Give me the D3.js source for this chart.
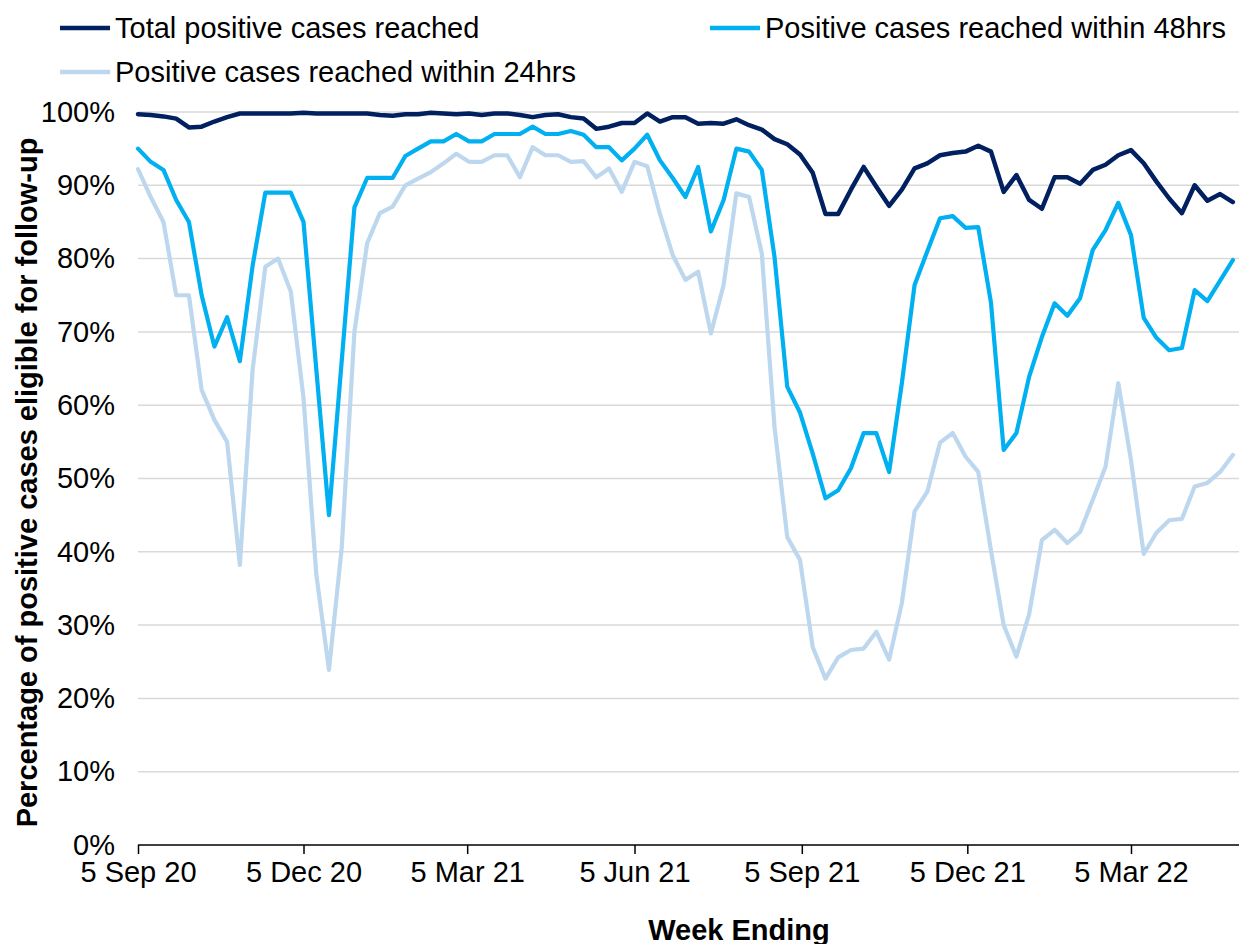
<!DOCTYPE html>
<html>
<head>
<meta charset="utf-8">
<script src="https://cdn.jsdelivr.net/npm/d3@7"></script>
<style>
  html, body { margin: 0; padding: 0; background: #fff; }
  svg { display: block; font-family: "Liberation Sans", Arial, sans-serif; }
</style>
</head>
<body>
<div id="chart"></div>
<script>
// ── Data: weekly share of positive cases reached (week ending Saturdays) ──
const firstWeek = new Date(2020, 8, 5);
const lastWeek  = new Date(2022, 3, 30);
const weeks = d3.timeSaturday.range(firstWeek, d3.timeDay.offset(lastWeek, 1));

const total = [
  99.7, 99.6, 99.4, 99.1, 97.9, 98.0, 98.7, 99.3, 99.8, 99.8,
  99.8, 99.8, 99.8, 99.9, 99.8, 99.8, 99.8, 99.8, 99.8, 99.6,
  99.5, 99.7, 99.7, 99.9, 99.8, 99.7, 99.8, 99.6, 99.8, 99.8,
  99.6, 99.3, 99.6, 99.7, 99.3, 99.1, 97.7, 98.0, 98.5, 98.5,
  99.8, 98.7, 99.3, 99.3, 98.4, 98.5, 98.4, 99.0, 98.2, 97.6,
  96.3, 95.6, 94.2, 91.7, 86.1, 86.1, 89.4, 92.5, 89.8, 87.2,
  89.4, 92.3, 93.0, 94.1, 94.4, 94.6, 95.4, 94.6, 89.1, 91.4,
  88.0, 86.8, 91.1, 91.1, 90.2, 92.1, 92.8, 94.1, 94.8, 93.0,
  90.5, 88.2, 86.2, 90.0, 87.9, 88.8, 87.7
];

const within48 = [
  95.0, 93.2, 92.1, 88.0, 85.0, 75.0, 68.0, 72.0, 66.0, 79.0,
  89.0, 89.0, 89.0, 85.0, 65.0, 45.0, 66.0, 87.0, 91.0, 91.0,
  91.0, 94.0, 95.0, 96.0, 96.0, 97.0, 96.0, 96.0, 97.0, 97.0,
  97.0, 98.0, 97.0, 97.0, 97.4, 96.9, 95.2, 95.2, 93.4, 95.0,
  96.9, 93.4, 91.0, 88.4, 92.5, 83.7, 88.0, 95.0, 94.6, 92.1,
  80.2, 62.5, 59.0, 53.4, 47.3, 48.4, 51.4, 56.2, 56.2, 50.9,
  63.0, 76.4, 81.0, 85.5, 85.8, 84.2, 84.3, 74.0, 53.9, 56.2,
  63.9, 69.3, 73.9, 72.2, 74.6, 81.2, 83.9, 87.6, 83.2, 71.9,
  69.2, 67.5, 67.8, 75.7, 74.2, 77.0, 79.8
];

const within24 = [
  92.2, 88.4, 85.0, 75.0, 75.0, 62.1, 58.0, 55.0, 38.2, 64.8,
  78.9, 80.0, 75.5, 61.0, 37.0, 23.9, 40.5, 70.0, 82.1, 86.2,
  87.1, 90.0, 90.9, 91.8, 93.0, 94.3, 93.2, 93.2, 94.1, 94.1,
  91.1, 95.2, 94.1, 94.1, 93.2, 93.3, 91.1, 92.3, 89.1, 93.2,
  92.6, 86.1, 80.5, 77.1, 78.2, 69.8, 76.4, 88.9, 88.4, 80.7,
  57.0, 42.0, 38.9, 27.0, 22.7, 25.6, 26.6, 26.8, 29.1, 25.3,
  33.0, 45.5, 48.2, 54.9, 56.2, 53.0, 50.9, 40.2, 30.0, 25.7,
  31.5, 41.6, 43.0, 41.2, 42.7, 47.1, 51.6, 63.0, 52.5, 39.7,
  42.6, 44.3, 44.5, 48.9, 49.4, 50.9, 53.2
];

const seriesNames = [
  "Total positive cases reached",
  "Positive cases reached within 48hrs",
  "Positive cases reached within 24hrs"
];
const seriesColors = ["#002060", "#00b0f0", "#bdd7ee"];

const xTickDates = [
  new Date(2020, 8, 5), new Date(2020, 11, 5), new Date(2021, 2, 5),
  new Date(2021, 5, 5), new Date(2021, 8, 5), new Date(2021, 11, 5),
  new Date(2022, 2, 5)
];
const yTicks = [0, 10, 20, 30, 40, 50, 60, 70, 80, 90, 100];

// ── Layout ──────────────────────────────────────────────────────────────
const W = 1239, H = 944;
const plot = { left: 138, right: 1239, top: 112, bottom: 845 };
const FONT = 29;

const svg = d3.select("#chart").append("svg")
  .attr("width", W).attr("height", H)
  .attr("viewBox", `0 0 ${W} ${H}`);

const x = d3.scaleTime()
  .domain([xTickDates[0], xTickDates[6]])
  .range([138, 1131]);

const y = d3.scaleLinear().domain([0, 100]).range([plot.bottom, plot.top]);

// Gridlines
svg.append("g")
  .selectAll("line")
  .data(yTicks.filter(v => v > 0))
  .join("line")
  .attr("x1", plot.left).attr("x2", plot.right)
  .attr("y1", d => y(d)).attr("y2", d => y(d))
  .attr("stroke", "#d9d9d9")
  .attr("stroke-width", 1.5);

// Y axis labels
const yAxis = svg.append("g")
  .attr("transform", `translate(${plot.left},0)`)
  .call(d3.axisLeft(y).tickValues(yTicks).tickSize(0).tickPadding(23)
    .tickFormat(d => d + "%"));
yAxis.select(".domain").remove();
yAxis.selectAll("text")
  .attr("font-size", FONT)
  .attr("font-family", "'Liberation Sans', Arial, sans-serif")
  .attr("fill", "#000");

// X axis
const xAxis = svg.append("g")
  .attr("transform", `translate(0,${plot.bottom})`)
  .call(d3.axisBottom(x).tickValues(xTickDates).tickSize(9).tickPadding(7)
    .tickFormat(d3.timeFormat("%-d %b %y")));
xAxis.select(".domain")
  .attr("d", `M${plot.left},0H${plot.right + 5}`)
  .attr("stroke", "#000").attr("stroke-width", 1.5);
xAxis.selectAll(".tick line").attr("stroke", "#000").attr("stroke-width", 1.5);
xAxis.selectAll("text")
  .attr("font-size", FONT)
  .attr("font-family", "'Liberation Sans', Arial, sans-serif")
  .attr("fill", "#000");

// Lines
const allSeries = [total, within48, within24];
const line = d3.line()
  .x((d, i) => x(weeks[i]))
  .y(d => y(d));

allSeries.forEach(function (vals, si) {
  svg.append("path")
    .datum(vals)
    .attr("d", line)
    .attr("fill", "none")
    .attr("stroke", seriesColors[si])
    .attr("stroke-width", si === 0 ? 4.5 : 4.2)
    .attr("stroke-linejoin", "round")
    .attr("stroke-linecap", "round");
});

// Legend
const legendPos = [
  { x: 60,  y: 28 },
  { x: 710, y: 28 },
  { x: 60,  y: 72 }
];
seriesNames.forEach(function (name, i) {
  const p = legendPos[i];
  svg.append("line")
    .attr("x1", p.x).attr("x2", p.x + 50)
    .attr("y1", p.y).attr("y2", p.y)
    .attr("stroke", seriesColors[i])
    .attr("stroke-width", 4.5);
  svg.append("text")
    .attr("x", p.x + 55).attr("y", p.y)
    .attr("dy", "0.35em")
    .attr("font-size", FONT)
    .attr("fill", "#000")
    .text(name);
});

// Axis titles
svg.append("text")
  .attr("transform", `translate(37,${(plot.top + plot.bottom) / 2 + 4}) rotate(-90)`)
  .attr("text-anchor", "middle")
  .attr("font-size", 29)
  .attr("font-weight", "bold")
  .attr("fill", "#000")
  .text("Percentage of positive cases eligible for follow-up");

svg.append("text")
  .attr("x", 739).attr("y", 940)
  .attr("text-anchor", "middle")
  .attr("font-size", 29)
  .attr("font-weight", "bold")
  .attr("fill", "#000")
  .text("Week Ending");
</script>
</body>
</html>
